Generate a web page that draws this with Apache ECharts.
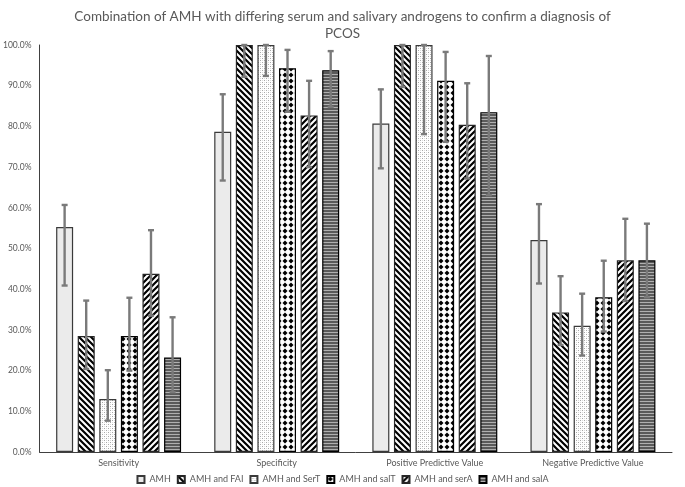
<!DOCTYPE html>
<html><head><meta charset="utf-8">
<script src="https://cdn.jsdelivr.net/npm/echarts@6/dist/echarts.min.js"></script>
<style>html,body{margin:0;padding:0;background:#fff}#c{width:685px;height:487px}</style>
</head><body><div id="c"></div>
<script>
var categories = ['Sensitivity', 'Specificity', 'Positive Predictive Value', 'Negative Predictive Value'];
var seriesNames = ['AMH', 'AMH and FAI', 'AMH and SerT', 'AMH and salT', 'AMH and serA', 'AMH and salA'];
var yTicks = [0, 10, 20, 30, 40, 50, 60, 70, 80, 90, 100];

var amhVal  = [55.3, 78.7, 80.7, 52.1];
var amhLow  = [40.9, 66.7, 69.7, 41.4];
var amhHigh = [60.7, 87.9, 89.1, 60.9];

var faiVal  = [28.5, 100, 100, 34.3];
var faiLow  = [20.4, 92.2, 89.7, 26.3];
var faiHigh = [37.2, 100, 100, 43.2];

var sertVal  = [13.0, 100, 100, 31.0];
var sertLow  = [7.7, 92.4, 78.1, 23.7];
var sertHigh = [20.1, 100, 100, 38.9];

var saltVal  = [28.5, 94.3, 91.2, 38.0];
var saltLow  = [20.0, 83.6, 76.2, 29.6];
var saltHigh = [37.9, 98.8, 98.3, 47.0];

var seraVal  = [43.8, 82.7, 80.4, 47.1];
var seraLow  = [33.5, 70.0, 67.2, 37.1];
var seraHigh = [54.5, 91.2, 90.6, 57.3];

var salaVal  = [23.2, 93.8, 83.5, 47.1];
var salaLow  = [14.7, 84.8, 63.1, 38.0];
var salaHigh = [33.1, 98.5, 97.3, 56.1];

var values = [amhVal, faiVal, sertVal, saltVal, seraVal, salaVal];
var lows = [amhLow, faiLow, sertLow, saltLow, seraLow, salaLow];
var highs = [amhHigh, faiHigh, sertHigh, saltHigh, seraHigh, salaHigh];

function pat(w, h, draw) {
  var c = document.createElement('canvas');
  c.width = w; c.height = h;
  var ctx = c.getContext('2d');
  ctx.fillStyle = '#ffffff'; ctx.fillRect(0, 0, w, h);
  draw(ctx);
  return { image: c, repeat: 'repeat' };
}
var fills = [
  '#ebebeb',
  pat(6, 6, function (ctx) {
    ctx.strokeStyle = '#000'; ctx.lineWidth = 2.2;
    ctx.beginPath();
    ctx.moveTo(-1, -1); ctx.lineTo(7, 7);
    ctx.moveTo(-4, 2); ctx.lineTo(4, 10);
    ctx.moveTo(2, -4); ctx.lineTo(10, 4);
    ctx.stroke();
  }),
  pat(4, 4, function (ctx) {
    ctx.fillStyle = '#a8a8a8';
    ctx.fillRect(0, 0, 1, 1); ctx.fillRect(2, 2, 1, 1);
    ctx.fillStyle = '#dcdcdc';
    ctx.fillRect(2, 0, 1, 1); ctx.fillRect(0, 2, 1, 1);
  }),
  pat(6, 6, function (ctx) {
    ctx.fillStyle = '#000';
    ctx.beginPath();
    ctx.moveTo(3, 0.5); ctx.lineTo(5.5, 3); ctx.lineTo(3, 5.5); ctx.lineTo(0.5, 3); ctx.closePath();
    ctx.fill();
  }),
  pat(6, 6, function (ctx) {
    ctx.strokeStyle = '#000'; ctx.lineWidth = 2.2;
    ctx.beginPath();
    ctx.moveTo(-1, 7); ctx.lineTo(7, -1);
    ctx.moveTo(-4, 4); ctx.lineTo(4, -4);
    ctx.moveTo(2, 10); ctx.lineTo(10, 2);
    ctx.stroke();
  }),
  pat(1, 3, function (ctx) {
    ctx.fillStyle = '#5a5a5a'; ctx.fillRect(0, 0, 1, 2);
    ctx.fillStyle = '#b0b0b0'; ctx.fillRect(0, 2, 1, 1);
  })
];
var borders = ['#3a3a3a', '#262626', '#3a3a3a', '#000', '#262626', '#000'];

var BW = 17, GAPR = 0.27;
function offsetFor(i) {
  var g = BW * GAPR, total = 6 * BW + 5 * g;
  return -total / 2 + BW / 2 + i * (BW + g);
}

var series = [];
seriesNames.forEach(function (n, i) {
  series.push({
    name: n, type: 'bar', barWidth: BW, barGap: (GAPR * 100) + '%',
    data: values[i],
    itemStyle: { color: fills[i], borderColor: borders[i], borderWidth: 1.2 },
    z: 2
  });
});
seriesNames.forEach(function (n, i) {
  series.push({
    type: 'custom', z: 5, silent: true,
    data: categories.map(function (c, k) { return [k, lows[i][k], highs[i][k]]; }),
    renderItem: function (params, api) {
      var k = api.value(0);
      var lo = api.coord([k, api.value(1)]);
      var hi = api.coord([k, api.value(2)]);
      var x = lo[0] + offsetFor(i);
      var st = { stroke: '#7a7a7a', lineWidth: 2.4 };
      return { type: 'group', children: [
        { type: 'line', shape: { x1: x, y1: lo[1], x2: x, y2: hi[1] }, style: st },
        { type: 'line', shape: { x1: x - 3, y1: lo[1], x2: x + 3, y2: lo[1] }, style: st },
        { type: 'line', shape: { x1: x - 3, y1: hi[1], x2: x + 3, y2: hi[1] }, style: st }
      ] };
    }
  });
});

var chart = echarts.init(document.getElementById('c'), null, { renderer: 'canvas' });
chart.setOption({
  animation: false,
  backgroundColor: '#fff',
  title: {
    text: 'Combination of AMH with differing serum and salivary androgens to confirm a diagnosis of\nPCOS',
    left: 'center', top: 3,
    textStyle: { fontFamily: 'Lato', fontWeight: 'normal', fontSize: 13.5, color: '#595959', lineHeight: 17 }
  },
  legend: {
    data: seriesNames, top: 470, left: 'center', icon: 'rect',
    itemWidth: 7, itemHeight: 7, itemGap: 6,
    textStyle: { fontFamily: 'Lato', fontSize: 9, color: '#595959' }
  },
  grid: { left: 36, right: 13, top: 45, bottom: 35, containLabel: false },
  xAxis: {
    type: 'category', data: categories,
    axisLine: { lineStyle: { color: '#404040', width: 1 } },
    axisTick: { show: false },
    axisLabel: { fontFamily: 'Lato', fontSize: 9, color: '#595959', margin: 7 }
  },
  yAxis: {
    type: 'value', min: 0, max: 100, interval: 10,
    axisLine: { show: true, lineStyle: { color: '#404040', width: 1 } },
    axisTick: { show: false },
    splitLine: { show: false },
    axisLabel: { fontFamily: 'Lato', fontSize: 8.5, color: '#595959', margin: 8,
      formatter: function (v) { return v.toFixed(1) + '%'; } }
  },
  series: series
});
</script></body></html>
